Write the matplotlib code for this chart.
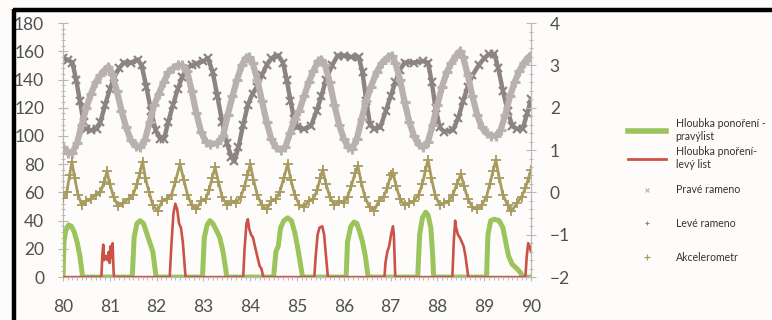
import matplotlib
matplotlib.use("Agg")
import matplotlib.pyplot as plt
from matplotlib.lines import Line2D
from matplotlib.ticker import MultipleLocator

# pravé rameno (deg)
right_arm_t = [80.00, 80.10, 80.20, 80.28, 80.36, 80.44, 80.50, 80.60, 80.72, 80.80, 80.90, 81.00,
               81.10, 81.20, 81.30, 81.45, 81.60, 81.68, 81.78, 81.88, 81.98, 82.08, 82.16, 82.25,
               82.35, 82.45, 82.55, 82.65, 82.75, 82.85, 83.00, 83.10, 83.20, 83.30, 83.40, 83.50,
               83.60, 83.66, 83.75, 83.85, 83.95, 84.05, 84.15, 84.25, 84.35, 84.45, 84.60, 84.70,
               84.78, 84.86, 84.94, 85.00, 85.15, 85.30, 85.42, 85.52, 85.62, 85.75, 85.87, 86.00,
               86.15, 86.32, 86.40, 86.48, 86.56, 86.65, 86.78, 86.90, 87.00, 87.10, 87.20, 87.30,
               87.50, 87.70, 87.80, 87.88, 87.96, 88.05, 88.15, 88.33, 88.45, 88.55, 88.65, 88.75,
               88.88, 89.00, 89.10, 89.22, 89.30, 89.40, 89.50, 89.60, 89.70, 89.82, 89.92, 90.00]
right_arm = [155, 154, 152, 140, 125, 110, 105, 104, 105, 110, 122, 133,
             142, 148, 152, 152, 154, 150, 135, 118, 104, 98, 98, 110,
             122, 133, 142, 148, 150, 151, 153, 155, 145, 128, 110, 95,
             85, 82, 92, 108, 122, 130, 135, 143, 150, 155, 157, 152,
             140, 125, 112, 106, 105, 107, 118, 128, 140, 150, 157, 157,
             156, 156, 145, 125, 108, 105, 106, 118, 128, 138, 147, 152,
             152, 153, 152, 138, 120, 106, 103, 104, 113, 125, 135, 143,
             150, 155, 158, 158, 148, 132, 118, 107, 105, 105, 116, 126]

# levé rameno (deg)
left_arm_t = [80.00, 80.10, 80.20, 80.30, 80.40, 80.50, 80.60, 80.70, 80.80, 80.90, 80.97, 81.05,
              81.15, 81.25, 81.35, 81.45, 81.55, 81.65, 81.75, 81.85, 81.95, 82.05, 82.15, 82.25,
              82.35, 82.45, 82.55, 82.65, 82.75, 82.85, 82.95, 83.05, 83.15, 83.30, 83.42, 83.52,
              83.62, 83.72, 83.82, 83.90, 83.97, 84.05, 84.15, 84.25, 84.35, 84.45, 84.55, 84.65,
              84.75, 84.85, 84.95, 85.05, 85.15, 85.25, 85.35, 85.45, 85.52, 85.60, 85.70, 85.80,
              85.90, 86.00, 86.10, 86.18, 86.28, 86.38, 86.48, 86.58, 86.70, 86.82, 86.95, 87.02,
              87.10, 87.20, 87.30, 87.40, 87.50, 87.60, 87.70, 87.80, 87.90, 88.00, 88.10, 88.20,
              88.30, 88.40, 88.48, 88.55, 88.65, 88.75, 88.85, 88.95, 89.05, 89.15, 89.25, 89.35,
              89.45, 89.55, 89.65, 89.75, 89.85, 89.95, 90.00]
left_arm = [92, 88, 88, 95, 108, 120, 130, 138, 143, 147, 149, 144,
            132, 118, 106, 97, 93, 92, 97, 110, 122, 130, 138, 145,
            148, 150, 150, 146, 132, 116, 103, 96, 94, 95, 100, 115,
            128, 140, 150, 155, 156, 152, 140, 125, 110, 98, 92, 90,
            92, 102, 112, 118, 128, 138, 146, 153, 154, 150, 138, 122,
            108, 98, 92, 91, 98, 112, 125, 135, 145, 152, 156, 157,
            152, 140, 124, 110, 100, 94, 92, 96, 108, 122, 135, 145,
            152, 157, 160, 156, 143, 128, 115, 106, 102, 100, 100, 104,
            115, 128, 138, 146, 152, 156, 157]

# akcelerometr (g)
acc_t = [80.00, 80.08, 80.14, 80.19, 80.25, 80.32, 80.40, 80.50, 80.60, 80.70, 80.80, 80.88,
         80.94, 81.00, 81.08, 81.18, 81.28, 81.40, 81.50, 81.58, 81.64, 81.70, 81.76, 81.84,
         81.92, 82.02, 82.12, 82.22, 82.32, 82.40, 82.50, 82.58, 82.66, 82.75, 82.85, 82.95,
         83.05, 83.12, 83.19, 83.25, 83.32, 83.40, 83.50, 83.60, 83.70, 83.80, 83.88, 83.94,
         84.00, 84.07, 84.15, 84.25, 84.35, 84.45, 84.55, 84.63, 84.72, 84.80, 84.87, 84.95,
         85.05, 85.15, 85.25, 85.35, 85.43, 85.50, 85.55, 85.62, 85.70, 85.80, 85.90, 86.00,
         86.08, 86.16, 86.24, 86.30, 86.37, 86.45, 86.55, 86.65, 86.75, 86.85, 86.93, 87.00,
         87.05, 87.12, 87.20, 87.30, 87.40, 87.50, 87.60, 87.68, 87.74, 87.80, 87.87, 87.95,
         88.05, 88.15, 88.25, 88.33, 88.42, 88.50, 88.57, 88.65, 88.75, 88.85, 88.95, 89.05,
         89.12, 89.19, 89.25, 89.32, 89.40, 89.50, 89.58, 89.70, 89.80, 89.88, 89.95, 90.00]
acc_g = [-0.13, 0.00, 0.40, 0.73, 0.35, -0.05, -0.30, -0.20, -0.15, -0.05, 0.00, 0.25,
         0.50, 0.20, -0.10, -0.33, -0.25, -0.15, -0.05, 0.20, 0.45, 0.73, 0.35, 0.00,
         -0.30, -0.43, -0.20, -0.15, -0.05, 0.25, 0.67, 0.30, -0.05, -0.30, -0.40, -0.20,
         -0.15, 0.05, 0.35, 0.60, 0.25, -0.10, -0.30, -0.20, -0.25, -0.10, 0.15, 0.40,
         0.67, 0.30, -0.05, -0.30, -0.40, -0.20, -0.15, 0.00, 0.35, 0.67, 0.30, -0.05,
         -0.30, -0.35, -0.20, -0.15, 0.05, 0.35, 0.53, 0.20, -0.10, -0.30, -0.20, -0.25,
         -0.10, 0.15, 0.45, 0.63, 0.25, -0.10, -0.35, -0.43, -0.20, -0.10, 0.10, 0.40,
         0.47, 0.15, -0.15, -0.30, -0.25, -0.20, -0.05, 0.20, 0.50, 0.77, 0.35, -0.05,
         -0.30, -0.25, -0.20, -0.05, 0.20, 0.43, 0.15, -0.15, -0.35, -0.40, -0.30, -0.10,
         0.20, 0.50, 0.77, 0.35, -0.05, -0.30, -0.45, -0.25, -0.10, 0.10, 0.35, 0.53]

# hloubka ponoření - pravý list
depth_r_t = [80.00, 80.02, 80.06, 80.12, 80.18, 80.24, 80.30, 80.36, 80.40, 80.42,
             81.48, 81.52, 81.58, 81.65, 81.72, 81.78, 81.85, 81.92, 81.97, 81.99,
             82.98, 83.02, 83.08, 83.14, 83.20, 83.28, 83.35, 83.42, 83.48, 83.50,
             84.50, 84.55, 84.60, 84.65, 84.72, 84.80, 84.88, 84.95, 85.02, 85.08, 85.12,
             86.05, 86.08, 86.15, 86.22, 86.28, 86.34, 86.40, 86.46, 86.50, 86.52,
             87.58, 87.62, 87.68, 87.75, 87.80, 87.86, 87.90, 87.92,
             89.05, 89.08, 89.14, 89.22, 89.32, 89.40, 89.46, 89.52, 89.60, 89.70, 89.78, 89.82,
             90.00]
depth_r = [0, 25, 33, 37, 36, 32, 25, 15, 5, 0,
           0, 28, 38, 40, 38, 32, 25, 18, 5, 0,
           0, 28, 37, 40, 38, 33, 28, 18, 5, 0,
           0, 18, 22, 35, 40, 42, 40, 32, 20, 8, 0,
           0, 25, 36, 39, 38, 32, 25, 15, 5, 0,
           0, 30, 42, 46, 44, 35, 15, 0,
           0, 30, 40, 41, 40, 35, 25, 15, 9, 6, 3, 0,
           0]

# hloubka ponoření - levý list
depth_l_t = [80.00, 80.82, 80.84, 80.86, 80.88, 80.92, 80.95, 80.98, 81.00, 81.02, 81.04, 81.06, 81.08, 81.09,
             82.28, 82.32, 82.36, 82.40, 82.44, 82.48, 82.52, 82.56, 82.60, 82.62,
             83.85, 83.88, 83.92, 83.95, 83.98, 84.02, 84.06, 84.10, 84.15, 84.20, 84.24, 84.28,
             85.37, 85.40, 85.44, 85.48, 85.54, 85.58, 85.62, 85.66,
             86.87, 86.89, 86.93, 86.97, 87.01, 87.05, 87.07, 87.09, 87.10,
             88.32, 88.35, 88.38, 88.40, 88.44, 88.48, 88.52, 88.56, 88.60, 88.64, 88.66,
             89.88, 89.91, 89.94, 89.97, 90.00]
depth_l = [0, 0, 15, 23, 12, 15, 12, 18, 10, 22, 14, 24, 5, 0,
           0, 25, 45, 52, 48, 38, 35, 25, 8, 0,
           0, 20, 38, 41, 34, 30, 28, 22, 15, 8, 6, 0,
           0, 15, 30, 35, 36, 30, 15, 0,
           0, 10, 18, 22, 30, 36, 30, 10, 0,
           0, 25, 40, 35, 30, 28, 25, 22, 15, 5, 0,
           0, 15, 24, 22, 18]

depth_labels = ["Hloubka ponoření -\npravýlist", "Hloubka pnoření-\nlevý list"]
sensor_labels = ["Pravé rameno", "Levé rameno", "Akcelerometr"]

c_green = "#9cc45c"
c_red = "#cc5248"
c_dark = "#8c8383"
c_light = "#b8b1b0"
c_acc = "#a89b60"
c_text = "#505050"
c_axis = "#b8b8b8"

plt.rcParams["font.family"] = ["Lato", "DejaVu Sans"]

fig = plt.figure(figsize=(7.72, 3.2), dpi=100, facecolor="#fefcfa")
ax = fig.add_axes([0.0816, 0.134, 0.6062, 0.794])
ax.set_facecolor("none")
ax2 = ax.twinx()

ax.plot(right_arm_t, right_arm, color=c_dark, lw=3.2, marker="x", ms=6, mew=1.6, zorder=2)
ax.plot(left_arm_t, left_arm, color=c_light, lw=4.5, marker="+", ms=7, mew=2.2, zorder=3)
ax.plot(depth_r_t, depth_r, color=c_green, lw=3.6, solid_joinstyle="round", zorder=4)
ax.plot(depth_l_t, depth_l, color=c_red, lw=1.9, zorder=5)
ax2.plot(acc_t, acc_g, color=c_acc, lw=2.0, marker="+", ms=7, mew=1.3)

ax.set_xlim(80, 90)
ax.set_ylim(0, 180)
ax2.set_ylim(-2, 4)
ax.set_xticks(range(80, 91))
ax.set_yticks(range(0, 181, 20))
ax2.set_yticks(range(-2, 5))
ax.xaxis.set_minor_locator(MultipleLocator(0.1))
ax.yaxis.set_minor_locator(MultipleLocator(4))
ax2.yaxis.set_minor_locator(MultipleLocator(0.2))

for a in (ax, ax2):
    for s in a.spines.values():
        s.set_visible(False)
ax.spines["left"].set_visible(True)
ax.spines["bottom"].set_visible(True)
ax2.spines["right"].set_visible(True)
for s in (ax.spines["left"], ax.spines["bottom"], ax2.spines["right"]):
    s.set_color(c_axis)
    s.set_linewidth(0.9)

ax.tick_params(axis="y", which="major", direction="inout", length=7, width=0.8,
               color=c_axis, labelsize=12.5, labelcolor=c_text, pad=10)
ax.tick_params(axis="y", which="minor", direction="inout", length=3.5, width=0.7, color=c_axis)
ax2.tick_params(axis="y", which="major", direction="inout", length=7, width=0.8,
                color=c_axis, labelsize=12.5, labelcolor=c_text, pad=10)
ax2.tick_params(axis="y", which="minor", direction="inout", length=3.5, width=0.7, color=c_axis)
ax.tick_params(axis="x", which="major", direction="out", length=3, width=0.8,
               color=c_axis, labelsize=12.5, labelcolor=c_text, pad=13)
ax.tick_params(axis="x", which="minor", direction="out", length=2.5, width=0.7, color=c_axis)

# legend in two blocks: depth lines, then sensor markers
depth_handles = [Line2D([], [], color=c_green, lw=4),
                 Line2D([], [], color=c_red, lw=2)]
sensor_handles = [Line2D([], [], color=c_light, ls="none", marker="x", ms=3, mew=0.8),
                  Line2D([], [], color=c_dark, ls="none", marker="+", ms=3, mew=0.8),
                  Line2D([], [], color=c_acc, ls="none", marker="+", ms=4, mew=0.9)]
leg_kw = dict(loc="upper left", frameon=False, fontsize=7.6, labelcolor="#333333",
              handlelength=3.6, handletextpad=0.95, borderpad=0)
fig.legend(depth_handles, depth_labels, bbox_to_anchor=(0.806, 0.648),
           labelspacing=0.45, **leg_kw)
fig.legend(sensor_handles, sensor_labels, bbox_to_anchor=(0.806, 0.44),
           labelspacing=2.15, **leg_kw)

# black frame along the top and left edge
fig.add_artist(Line2D([0.0165, 1.0], [0.968, 0.968], transform=fig.transFigure,
                      color="black", lw=3.2, solid_capstyle="butt"))
fig.add_artist(Line2D([0.0175, 0.0175], [0.0, 0.973], transform=fig.transFigure,
                      color="black", lw=3.2, solid_capstyle="butt"))

fig.savefig("out.png", dpi=100, facecolor=fig.get_facecolor())
